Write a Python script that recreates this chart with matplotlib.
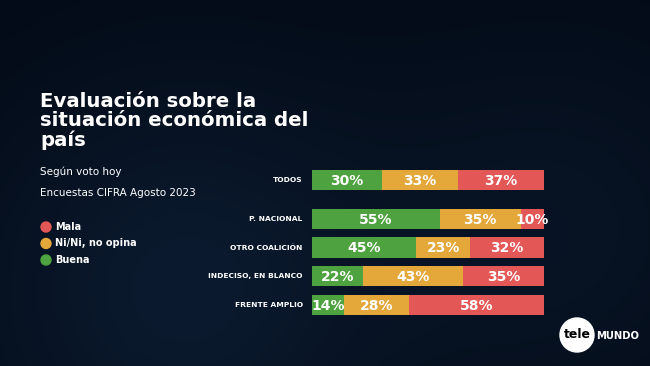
import numpy as np
import matplotlib.pyplot as plt
from matplotlib.patches import Circle

# data
groups = ["TODOS", "P. NACIONAL", "OTRO COALICIÓN", "INDECISO, EN BLANCO", "FRENTE AMPLIO"]
buena = [30, 55, 45, 22, 14]
ni_ni = [33, 35, 23, 43, 28]
mala = [37, 10, 32, 35, 58]
legend_labels = ["Mala", "Ni/Ni, no opina", "Buena"]

green = "#4ea23f"
orange = "#e3a73a"
red = "#e35757"
bg = "#040c1b"

W, H = 650, 366
fig = plt.figure(figsize=(W / 100, H / 100), dpi=100, facecolor=bg)

# background glow
bgax = fig.add_axes([0, 0, 1, 1])
bgax.set_xlim(0, W)
bgax.set_ylim(H, 0)
bgax.axis("off")
yy, xx = np.mgrid[0:H, 0:W]
glow = np.exp(-((xx - 180) ** 2 + (yy - 290) ** 2) / (2 * 150 ** 2)) * 0.45 \
    + np.exp(-((xx - 560) ** 2 + (yy - 230) ** 2) / (2 * 140 ** 2)) * 0.25
base = np.array([3, 10, 22]) / 255
tint = np.array([20, 45, 75]) / 255
img = base + glow[..., None] * (tint - base)
bgax.imshow(np.clip(img, 0, 1), extent=[0, W, H, 0], aspect="auto")

# row positions (gap after TODOS)
rows = np.array([0, 1.35, 2.35, 3.35, 4.35])
bh = 0.7

left_px, right_px = 312, 544
top_px, bot_px = 170, 315
ax = fig.add_axes([left_px / W, 1 - bot_px / H, (right_px - left_px) / W, (bot_px - top_px) / H])
ax.set_facecolor("none")
ax.set_xlim(0, 100)
ax.set_ylim(rows[-1] + bh / 2, rows[0] - bh / 2)
ax.axis("off")

b = np.array(buena)
n = np.array(ni_ni)
m = np.array(mala)
ax.barh(rows, b, height=bh, color=green, linewidth=0)
ax.barh(rows, n, left=b, height=bh, color=orange, linewidth=0)
ax.barh(rows, m, left=b + n, height=bh, color=red, linewidth=0)

for i, r in enumerate(rows):
    starts = [0, b[i], b[i] + n[i]]
    for s, v in zip(starts, [b[i], n[i], m[i]]):
        ax.text(s + v / 2, r + 0.03, f"{v}%", color="white", fontsize=10,
                fontweight="heavy", ha="center", va="center")
    ax.text(-4, r, groups[i], color="white", fontsize=5.4, fontweight="heavy",
            ha="right", va="center", transform=ax.transData)

# title and subtitles
fig.text(40 / W, 1 - 92 / H, "Evaluación sobre la\nsituación económica del\npaís",
         color="white", fontsize=14.2, fontweight="bold", ha="left", va="top",
         linespacing=1.0)
fig.text(40 / W, 1 - 172 / H, "Según voto hoy", color="white", fontsize=7.5,
         ha="left", va="center")
fig.text(40 / W, 1 - 193 / H, "Encuestas CIFRA Agosto 2023", color="white", fontsize=7.5,
         ha="left", va="center")

# legend
leg_colors = [red, orange, green]
for k, (lab, c) in enumerate(zip(legend_labels, leg_colors)):
    y = 227 + k * 16.5
    bgax.add_patch(Circle((46, y), 5, color=c))
    bgax.text(55, y, lab, color="white", fontsize=7, fontweight="bold",
              ha="left", va="center")

# logo
bgax.add_patch(Circle((577, 335), 17, color="white"))
bgax.text(577, 335, "tele", color="black", fontsize=9, fontweight="bold",
          ha="center", va="center")
bgax.text(596, 336, "MUNDO", color="white", fontsize=7.2, fontweight="bold",
          ha="left", va="center")

fig.savefig("out.png", dpi=100, facecolor=bg)
